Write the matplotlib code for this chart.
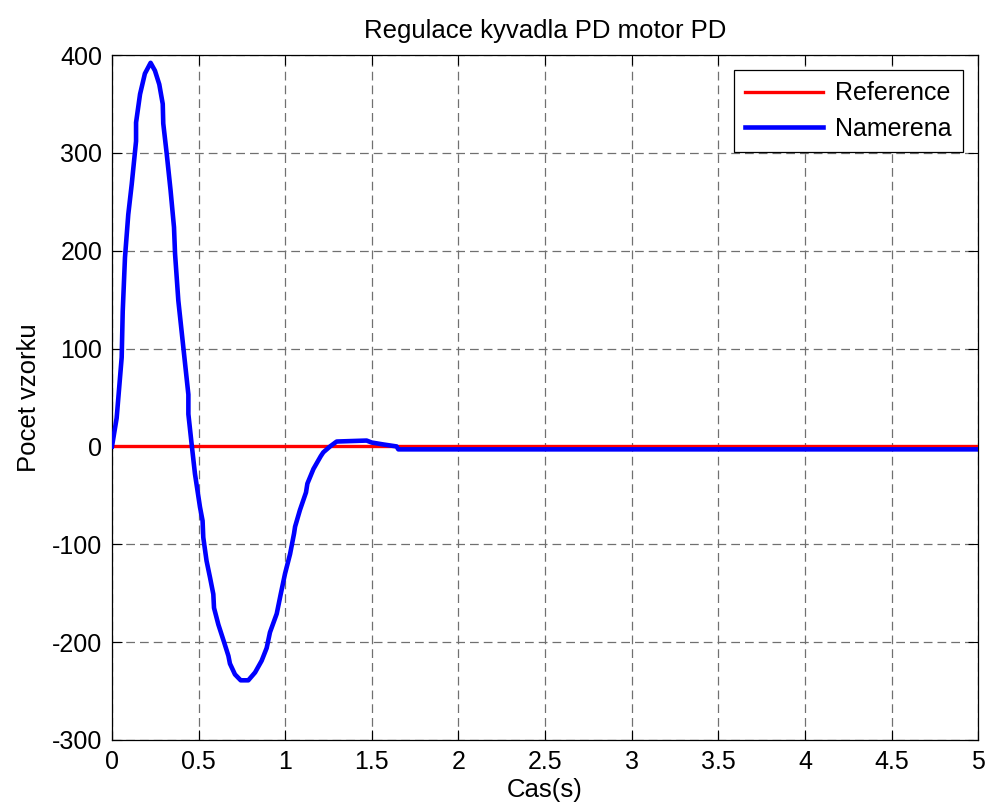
import numpy as np
import matplotlib.pyplot as plt

plt.rcParams["font.family"] = ["Liberation Sans", "DejaVu Sans"]
plt.rcParams["axes.unicode_minus"] = False

# measured response of the pendulum (time in s, sample count)
t_meas = [0.0, 0.027, 0.056, 0.062, 0.075, 0.094, 0.114, 0.139, 0.139, 0.162,
          0.19, 0.223, 0.248, 0.273, 0.293, 0.296, 0.316, 0.338, 0.358, 0.364,
          0.383, 0.412, 0.441, 0.441, 0.46, 0.479, 0.508, 0.523, 0.527, 0.546,
          0.566, 0.585, 0.589, 0.614, 0.647, 0.672, 0.681, 0.71, 0.743, 0.787,
          0.826, 0.864, 0.893, 0.912, 0.951, 0.974, 0.999, 1.028, 1.051, 1.057,
          1.085, 1.12, 1.128, 1.163, 1.205, 1.22, 1.259, 1.297, 1.47, 1.499,
          1.567, 1.643, 1.653, 5.0]
y_meas = [0, 29, 91, 138, 193, 237, 268, 312, 331, 360,
          381, 392, 384, 370, 350, 330, 299, 262, 224, 197,
          149, 101, 53, 33, 2, -28, -62, -76, -93, -117,
          -134, -151, -165, -182, -200, -214, -222, -233, -239, -239,
          -231, -219, -206, -190, -171, -151, -130, -110, -89, -82,
          -65, -47, -38, -23, -10, -6, 0, 5, 6, 4,
          2, 0, -3, -3]

# reference signal
t_ref = [0.0, 5.0]
y_ref = [0, 0]

x_ticks = [0, 0.5, 1, 1.5, 2, 2.5, 3, 3.5, 4, 4.5, 5]
x_tick_labels = ["0", "0.5", "1", "1.5", "2", "2.5", "3", "3.5", "4", "4.5", "5"]
y_ticks = [-300, -200, -100, 0, 100, 200, 300, 400]

fig = plt.figure(figsize=(9.91, 8.09), dpi=100)
ax = fig.add_axes([0.113, 0.0853, 0.874, 0.8467])

ax.plot(t_ref, y_ref, color="#ff0000", lw=2.4, label="Reference", zorder=3)
ax.plot(t_meas, y_meas, color="#0000ff", lw=3.3, label="Namerena", zorder=4)

ax.set_xlim(0, 5)
ax.set_ylim(-300, 400)
ax.set_xticks(x_ticks)
ax.set_xticklabels(x_tick_labels)
ax.set_yticks(y_ticks)
ax.tick_params(direction="in", length=7, width=0.8, labelsize=18,
               top=True, right=True, pad=7)
for s in ax.spines.values():
    s.set_linewidth(0.9)

ax.grid(True, color="#707070", linestyle=(0, (7, 4)), linewidth=0.9)

ax.set_title("Regulace kyvadla PD motor PD", fontsize=18.5, pad=12)
ax.set_xlabel("Cas(s)", fontsize=18.5, labelpad=3)
ax.set_ylabel("Pocet vzorku", fontsize=18.5, labelpad=8)

leg = ax.legend(loc="upper right", fontsize=18, fancybox=False, framealpha=1,
                edgecolor="black", handlelength=3.1, handletextpad=0.5,
                borderaxespad=0.6, borderpad=0.45, labelspacing=0.45)
leg.get_frame().set_linewidth(0.9)

fig.savefig("out.png", dpi=100)
